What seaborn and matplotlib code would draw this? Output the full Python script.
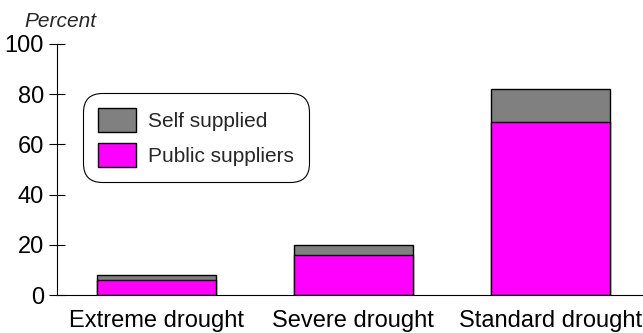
import matplotlib
matplotlib.use("Agg")
import matplotlib.pyplot as plt
import seaborn as sns
import pandas as pd
from matplotlib.patches import Patch

categories = ["Extreme drought", "Severe drought", "Standard drought"]
public_suppliers = [6, 16, 69]
self_supplied = [2, 4, 13]
yticks = [0, 20, 40, 60, 80, 100]

totals = [p + s for p, s in zip(public_suppliers, self_supplied)]
df = pd.DataFrame({"cat": categories, "public": public_suppliers, "total": totals})

sns.set_style("white")
plt.rcParams["font.family"] = ["Liberation Sans", "DejaVu Sans"]

fig = plt.figure(figsize=(6.43, 3.33), dpi=100)
ax = fig.add_axes([57 / 643, 38 / 333, (643 - 57) / 643, (295 - 44) / 333])

gray = "#808080"
mag = "#FF00FF"
sns.barplot(data=df, x="cat", y="total", color=gray, saturation=1, width=0.605,
            edgecolor="black", linewidth=1, ax=ax)
sns.barplot(data=df, x="cat", y="public", color=mag, saturation=1, width=0.605,
            edgecolor="black", linewidth=1, ax=ax)

ax.set_ylim(0, 100)
ax.set_xlim(-0.503, 2.47)
ax.set_yticks(yticks)
ax.set_yticklabels([str(v) for v in yticks], fontsize=17)
ax.set_xlabel("")
ax.set_ylabel("")
for s in ["top", "right"]:
    ax.spines[s].set_visible(False)
for s in ["left", "bottom"]:
    ax.spines[s].set_color("black")
    ax.spines[s].set_linewidth(0.8)
ax.tick_params(axis="y", direction="inout", length=12.2, width=0.8, left=True, pad=3.2, colors="black")
ax.tick_params(axis="x", length=0, pad=11, labelsize=17, colors="black")

fig.text(24 / 643, 1 - 27 / 333, "Percent", fontsize=15, style="italic", va="baseline", ha="left")

handles = [Patch(facecolor=gray, edgecolor="black", label="Self supplied"),
           Patch(facecolor=mag, edgecolor="black", label="Public suppliers")]
leg = ax.legend(handles=handles, loc="upper left",
                bbox_to_anchor=((83 - 57) / 586, (295 - 93) / 251),
                fontsize=15, frameon=True, fancybox=True,
                handlelength=1.83, handleheight=1.45, handletextpad=0.6,
                labelspacing=0.5, borderpad=0.7, borderaxespad=0)
fr = leg.get_frame()
fr.set_edgecolor("black")
fr.set_linewidth(0.8)
fr.set_facecolor("white")
fr.set_alpha(1)
fr.set_boxstyle("round,pad=0,rounding_size=0.9")

fig.savefig("out.png", dpi=100)
